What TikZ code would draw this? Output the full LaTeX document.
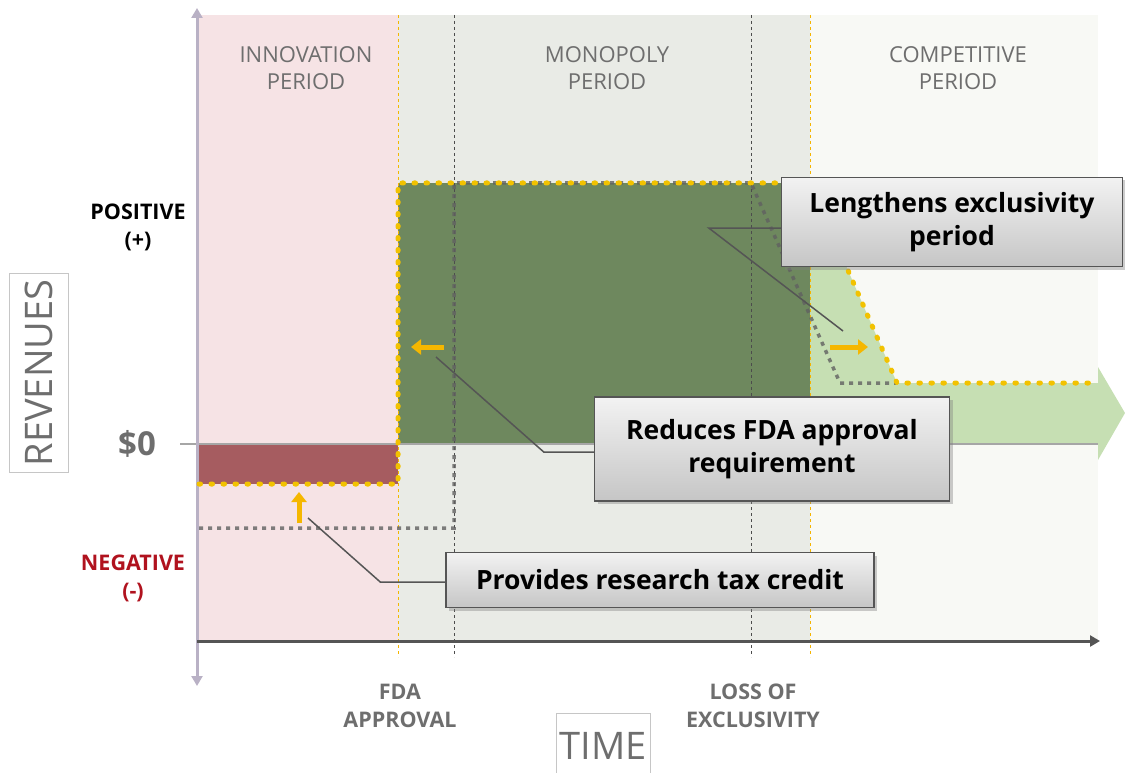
\documentclass[tikz,border=0pt]{standalone}
\usepackage{fontspec}
\setmainfont{Open Sans}
\usetikzlibrary{arrows.meta,shadows}

\definecolor{innopink}{HTML}{F6E3E5}
\definecolor{monogray}{HTML}{E9EBE6}
\definecolor{compwhite}{HTML}{F8F9F5}
\definecolor{darkgreen}{HTML}{6E885E}
\definecolor{lightgreen}{HTML}{C6DFB3}
\definecolor{lossred}{HTML}{A65C60}
\definecolor{goldline}{HTML}{F2C200}
\definecolor{arrowgold}{HTML}{F5B700}
\definecolor{axisgray}{HTML}{555555}
\definecolor{yaxisgray}{HTML}{B9B1C5}
\definecolor{labelgray}{HTML}{6E6E6E}
\definecolor{negred}{HTML}{B0121E}

\tikzset{
	callout/.style={draw=axisgray, line width=1.5pt, top color=gray!10, bottom color=gray!45,
		drop shadow={shadow xshift=3pt, shadow yshift=-3pt, opacity=0.4},
		font=\fontsize{26.5}{33}\selectfont\bfseries, align=center, inner sep=0pt},
	pointer/.style={draw=axisgray, line width=1.5pt},
	period/.style={text=labelgray, font=\fontsize{22}{27}\selectfont, align=center},
	ticklabel/.style={font=\fontsize{21.5}{28}\selectfont\bfseries, align=center},
	axistitle/.style={draw=gray!45, line width=0.8pt, text=labelgray, font=\fontsize{38}{38}\selectfont, inner sep=0pt},
	newedge/.style={goldline, line width=5pt, line cap=round, dash pattern=on 1.5pt off 10.5pt},
	oldedge/.style={black!62, line width=3.5pt, dash pattern=on 4pt off 5pt, opacity=0.8},
	movearrow/.style={arrowgold, line width=5pt, -{Triangle[length=10pt,width=15pt]}},
}

\begin{document}
\begin{tikzpicture}[x=1pt,y=-1pt]
		\useasboundingbox (0,0) rectangle (1125,773);
		% the three periods
		\fill [innopink] (199,15) rectangle (398,641);
		\fill [monogray] (398,15) rectangle (810,641);
		\fill [compwhite] (810,15) rectangle (1098,641);
		%
		\fill [darkgreen] (398,183) rectangle (810,444);
		\fill [lightgreen] (810,183) -- (897,383) -- (1098,383) -- (1098,367) -- (1125,413)
			-- (1098,460) -- (1098,444) -- (810,444) -- cycle;
		\fill [lossred] (199,444) rectangle (398,484);
		%
		\foreach \x in {454,751}
			\draw [black!70, line width=0.8pt, dashed] (\x,15) -- (\x,657);
		\foreach \x in {398,810}
			\draw [goldline!80!orange, line width=0.8pt, dashed] (\x,15) -- (\x,657);
		%
		\draw [gray!70, line width=2pt] (180,444) -- (1098,444);
		\draw [yaxisgray, line width=3pt, {Triangle[length=10pt,width=11pt]}-{Triangle[length=10pt,width=11pt]}] (197,8) -- (197,686);
		\draw [axisgray, line width=3pt, -{Triangle[length=10pt,width=11pt]}] (197,641) -- (1100,641);
		%
		\draw [oldedge] (199,528) -- (454,528) -- (454,183) -- (751,183) -- (840,383) -- (897,383);
		\draw [newedge] (199,484) -- (398,484) -- (398,183) -- (810,183) -- (897,383) -- (1098,383);
		%
		\draw [movearrow] (299,523) -- (299,492);
		\draw [movearrow] (444,347) -- (411,347);
		\draw [movearrow] (830,347) -- (868,347);
		%
		\node [period] (inno) at (306,68) {INNOVATION\\PERIOD};
		\node [period] (mono) at (607,68) {MONOPOLY\\PERIOD};
		\node [period] (comp) at (958,68) {COMPETITIVE\\PERIOD};
		\node [ticklabel] (pos) at (138,227) {POSITIVE\\(+)};
		\node [ticklabel, text=negred] (neg) at (133,578) {NEGATIVE\\(-)};
		\node [text=labelgray, font=\fontsize{33}{33}\selectfont\bfseries] (zero) at (137,444) {\$0};
		\node [ticklabel, text=labelgray] (fda) at (400,706) {FDA\\APPROVAL};
		\node [ticklabel, text=labelgray] (loe) at (753,706) {LOSS OF\\EXCLUSIVITY};
		\node [axistitle, rotate=90, minimum width=199pt, minimum height=59pt] (rev) at (39,373) {REVENUES};
		\node [axistitle, minimum width=94pt, minimum height=66pt] (time) at (603,746) {TIME};
		%
		\coordinate (lengthtip) at (843,331);
		\coordinate (fdatip) at (436,357);
		\coordinate (taxtip) at (308,518);
		\node [callout, minimum width=341pt, minimum height=89pt] (lengthbox) at (952,222) {Lengthens exclusivity\\period};
		\node [callout, minimum width=355pt, minimum height=104pt] (fdabox) at (772,449) {Reduces FDA approval\\requirement};
		\node [callout, minimum width=428pt, minimum height=55pt] (taxbox) at (660,580) {Provides research tax credit};
		\draw [pointer] ([yshift=-6pt]lengthbox.west) -- ++(-72,0) -- (lengthtip);
		\draw [pointer] ([yshift=-3pt]fdabox.west) -- ++(-50,0) -- (fdatip);
		\draw [pointer] ([yshift=-2pt]taxbox.west) -- ++(-65,0) -- (taxtip);
	\end{tikzpicture}
\end{document}
